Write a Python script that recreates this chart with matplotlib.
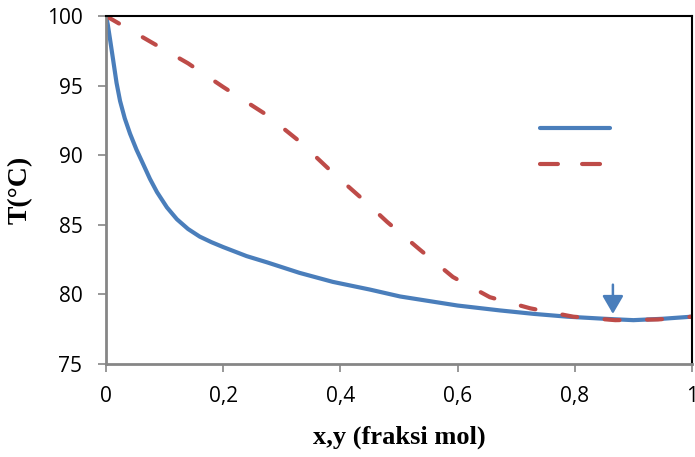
import numpy as np
import matplotlib.pyplot as plt
from matplotlib.lines import Line2D

# bubble (liquid) curve
x_liq = [0.0, 0.003, 0.007, 0.012, 0.018, 0.024, 0.032, 0.041, 0.052, 0.063, 0.075, 0.087,
         0.104, 0.121, 0.14, 0.16, 0.18, 0.2, 0.24, 0.275, 0.33, 0.387, 0.45, 0.502,
         0.6, 0.672, 0.73, 0.787, 0.85, 0.9, 0.95, 1.0]
T_liq = [100.0, 99.4, 98.3, 96.9, 95.2, 93.9, 92.65, 91.55, 90.4, 89.4, 88.3, 87.35,
         86.25, 85.4, 84.7, 84.15, 83.75, 83.4, 82.75, 82.3, 81.55, 80.9, 80.35, 79.85,
         79.2, 78.85, 78.6, 78.4, 78.25, 78.15, 78.25, 78.4]

# dew (vapour) curve
x_vap = [0.0, 0.078, 0.14, 0.2, 0.274, 0.33, 0.388, 0.439, 0.48, 0.536, 0.592,
         0.655, 0.724, 0.797, 0.869, 0.942, 1.0]
T_vap = [100.0, 98.1, 96.6, 94.9, 92.9, 91.0, 88.7, 86.8, 85.2, 83.2, 81.25,
         79.8, 79.0, 78.4, 78.15, 78.2, 78.4]

# azeotrope marker
az_x = 0.865
az_top, az_tip = 80.7, 78.6

blue = '#4a7ebb'
red = '#be4b48'
grey = '#868686'

fig = plt.figure(figsize=(6.95, 4.57), dpi=100)
ax = fig.add_axes([0.1525, 0.2035, 0.8432, 0.7615])

ax.plot(x_liq, T_liq, color=blue, lw=3.0, solid_capstyle='round', solid_joinstyle='round')
ax.plot(x_vap, T_vap, color=red, lw=3.0, dashes=(3.6, 6.6), dash_capstyle='round')

ax.annotate('', xy=(az_x, az_tip), xytext=(az_x, az_top),
            arrowprops=dict(arrowstyle='-|>,head_length=0.55,head_width=0.32',
                            color=blue, lw=1.8, mutation_scale=20,
                            shrinkA=0, shrinkB=0))

ax.set_xlim(0, 1)
ax.set_ylim(75, 100)
ax.set_xticks([0, 0.2, 0.4, 0.6, 0.8, 1.0])
ax.set_xticklabels(['0', '0,2', '0,4', '0,6', '0,8', '1'])
ax.set_yticks([75, 80, 85, 90, 95, 100])

for s in ['left', 'bottom']:
    ax.spines[s].set_color(grey)
    ax.spines[s].set_linewidth(2)
for s in ['top', 'right']:
    ax.spines[s].set_color('black')
    ax.spines[s].set_linewidth(1.5)

ax.tick_params(axis='both', direction='out', length=6, width=1.2, color=grey,
               labelsize=15)
for lbl in ax.get_xticklabels() + ax.get_yticklabels():
    lbl.set_family('Open Sans')
ax.tick_params(axis='y', pad=11)
ax.tick_params(axis='x', pad=10)

ax.set_xlabel('x,y (fraksi mol)', fontsize=19, fontweight='bold', family='Liberation Serif',
              va='center')
ax.set_ylabel('T(°C)', fontsize=20, fontweight='bold', family='Liberation Serif',
              va='center')
ax.xaxis.set_label_coords(0.5, -0.21)
ax.yaxis.set_label_coords(-0.147, 0.5)

handles = [Line2D([], [], color=blue, lw=3.0, solid_capstyle='round'),
           Line2D([], [], color=red, lw=3.0, dashes=(4.3, 5.8), dash_capstyle='round')]
ax.legend(handles, [' ', ' '], loc='upper left', bbox_to_anchor=(0.729, 0.721),
          frameon=False, handlelength=4.2, labelspacing=1.1, fontsize=12,
          borderaxespad=0)

fig.savefig('out.png', dpi=100)
